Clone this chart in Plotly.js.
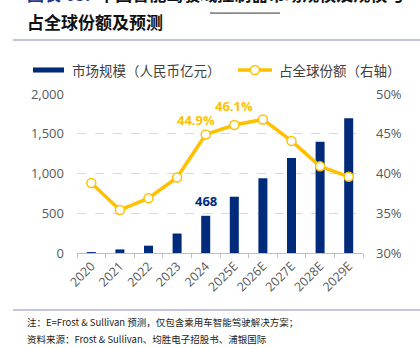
<!DOCTYPE html>
<html>
<head>
<meta charset="utf-8">
<script src="https://cdn.plot.ly/plotly-3.0.1.min.js"></script>
<style>
  html, body { margin: 0; padding: 0; background: #ffffff; }
  #chart { width: 420px; height: 348px; }
</style>
</head>
<body>
<div id="chart"></div>
<script>
// ---- data ----
const years = ['2020', '2021', '2022', '2023', '2024', '2025E', '2026E', '2027E', '2028E', '2029E'];
const marketSize = [12, 45, 92, 245, 468, 708, 940, 1195, 1400, 1694];   // 人民币亿元
const globalShare = [38.8, 35.4, 36.9, 39.5, 44.9, 46.1, 46.8, 44.1, 40.9, 39.6]; // %
const barSeriesName = '市场规模（人民币亿元）';
const lineSeriesName = '占全球份额（右轴）';
const titleLine1Prefix = '图表 65:';
const titleLine1 = '中国智能驾驶域控制器市场规模及规模与';
const titleLine2 = '占全球份额及预测';
const note1 = '注：E=Frost &amp; Sullivan 预测，仅包含乘用车智能驾驶解决方案；';
const note2 = '资料来源：Frost &amp; Sullivan、均胜电子招股书、浦银国际';

const NAVY = '#002A7A';
const GOLD = '#FFC000';
const CJK = '"Noto Sans CJK SC", "Noto Sans", sans-serif';
const NUM = '"Open Sans", "Noto Sans", sans-serif';

const traces = [
  {
    type: 'bar', x: years, y: marketSize, name: barSeriesName,
    marker: { color: NAVY }, yaxis: 'y', showlegend: false, hoverinfo: 'skip'
  },
  {
    type: 'scatter', mode: 'lines+markers', x: years, y: globalShare, name: lineSeriesName,
    yaxis: 'y2', showlegend: false, hoverinfo: 'skip',
    line: { color: GOLD, width: 3.5 },
    marker: { size: 9, color: '#ffffff', line: { color: GOLD, width: 1.5 } }
  }
];

const i2024 = years.indexOf('2024');
const i2025 = years.indexOf('2025E');

const annotations = [
  // title
  { xref: 'paper', yref: 'paper', x: -0.1818, y: 1.635, xanchor: 'left', yanchor: 'middle', showarrow: false,
    text: '<b><span style="color:#1F3A8A">' + titleLine1Prefix + '</span>  ' + titleLine1 + '</b>',
    font: { family: CJK, size: 17, color: '#111111' } },
  { xref: 'paper', yref: 'paper', x: -0.1818, y: 1.453, xanchor: 'left', yanchor: 'middle', showarrow: false,
    text: '<b>' + titleLine2 + '</b>', font: { family: CJK, size: 17, color: '#111111' } },
  // legend texts
  { xref: 'paper', yref: 'paper', x: -0.024, y: 1.151, xanchor: 'left', yanchor: 'middle', showarrow: false,
    text: barSeriesName, font: { family: CJK, size: 13.5, color: '#404040' } },
  { xref: 'paper', yref: 'paper', x: 0.699, y: 1.151, xanchor: 'left', yanchor: 'middle', showarrow: false,
    text: lineSeriesName, font: { family: CJK, size: 13.5, color: '#404040' } },
  // data labels (x given as category index)
  { xref: 'x', yref: 'y2', x: i2024, y: globalShare[i2024], text: '<b>' + globalShare[i2024].toFixed(1) + '%</b>',
    showarrow: false, yshift: 15, xshift: -10, font: { family: NUM, size: 13, color: GOLD } },
  { xref: 'x', yref: 'y2', x: i2025, y: globalShare[i2025], text: '<b>' + globalShare[i2025].toFixed(1) + '%</b>',
    showarrow: false, yshift: 19, font: { family: NUM, size: 13, color: GOLD } },
  { xref: 'x', yref: 'y', x: i2024, y: marketSize[i2024], text: '<b>' + marketSize[i2024] + '</b>',
    showarrow: false, yshift: 15, font: { family: NUM, size: 13, color: NAVY } },
  // notes
  { xref: 'paper', yref: 'paper', x: -0.1818, y: -0.434, xanchor: 'left', yanchor: 'middle', showarrow: false,
    text: note1, font: { family: CJK, size: 9.5, color: '#222222' } },
  { xref: 'paper', yref: 'paper', x: -0.1818, y: -0.541, xanchor: 'left', yanchor: 'middle', showarrow: false,
    text: note2, font: { family: CJK, size: 9.5, color: '#222222' } }
];

const shapes = [
  // separators
  { type: 'line', xref: 'paper', yref: 'paper', x0: -0.2238, x1: 1.2, y0: 1.3396, y1: 1.3396, line: { color: '#8A8AC8', width: 1.2 } },
  { type: 'line', xref: 'paper', yref: 'paper', x0: -0.2238, x1: 1.2, y0: -0.3585, y1: -0.3585, line: { color: '#8A8AC8', width: 1.2 } },
  // title underline
  { type: 'line', xref: 'paper', yref: 'paper', x0: 0.465, x1: 0.71, y0: 1.509, y1: 1.509, line: { color: '#333333', width: 1 } },
  // legend symbols
  { type: 'rect', xref: 'paper', yref: 'paper', x0: -0.1538, x1: -0.0455, y0: 1.135, y1: 1.167, fillcolor: NAVY, line: { width: 0 } },
  { type: 'line', xref: 'paper', yref: 'paper', x0: 0.563, x1: 0.682, y0: 1.151, y1: 1.151, line: { color: GOLD, width: 3.5 } },
  { type: 'circle', xref: 'paper', yref: 'paper', x0: 0.6224 - 0.0157, x1: 0.6224 + 0.0157, y0: 1.151 - 0.0283, y1: 1.151 + 0.0283,
    fillcolor: '#ffffff', line: { color: GOLD, width: 1.5 } }
];

const layout = {
  width: 420, height: 348, autosize: false,
  margin: { l: 77, r: 57, t: 94, b: 95, pad: 0 },
  paper_bgcolor: '#ffffff', plot_bgcolor: '#ffffff',
  showlegend: false,
  bargap: 0.685,
  separators: '.,',
  xaxis: {
    type: 'category', range: [-0.5, years.length - 0.5], autorange: false,
    showline: true, linecolor: '#BFBFBF', linewidth: 1,
    ticks: 'outside', tickson: 'boundaries', ticklen: 4, tickcolor: '#BFBFBF',
    tickangle: -45, tickfont: { family: NUM, size: 12.5, color: '#595959' },
    showgrid: false, zeroline: false
  },
  yaxis: {
    range: [0, 2000], dtick: 500, tickformat: ',d',
    showgrid: true, gridcolor: '#D9D9D9', griddash: 'dash', gridwidth: 1,
    zeroline: false, showline: false, ticks: '',
    ticklabelstandoff: 12,
    tickfont: { family: NUM, size: 13, color: '#595959' }
  },
  yaxis2: {
    overlaying: 'y', side: 'right', range: [30, 50], dtick: 5, ticksuffix: '%',
    showgrid: false, zeroline: false, showline: false, ticks: '',
    ticklabelstandoff: 12,
    tickfont: { family: NUM, size: 13, color: '#595959' }
  },
  annotations: annotations,
  shapes: shapes
};

Plotly.newPlot('chart', traces, layout, { staticPlot: true, displayModeBar: false });
</script>
</body>
</html>
